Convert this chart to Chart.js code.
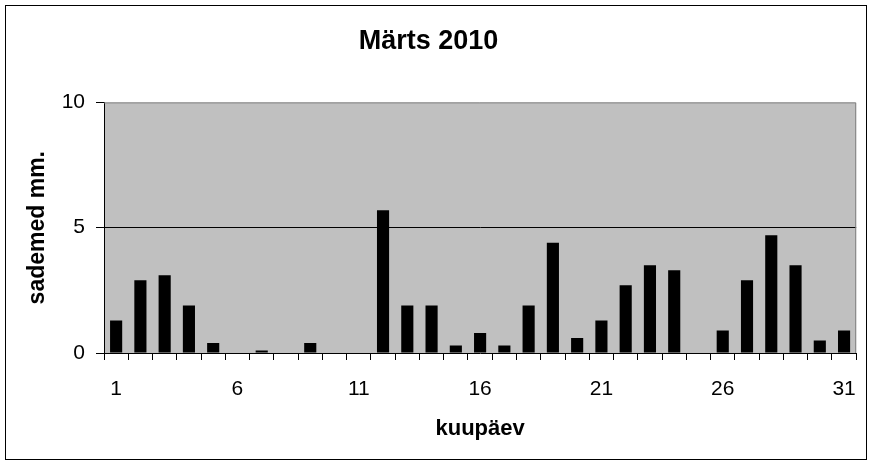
<!DOCTYPE html>
<html>
<head>
<meta charset="utf-8">
<script src="https://cdn.jsdelivr.net/npm/chart.js@4.4.1/dist/chart.umd.min.js"></script>
<style>
  body { margin: 0; background: #fff; }
  canvas { display: block; }
</style>
</head>
<body>
<canvas id="rainChart" width="873" height="465"></canvas>
<script>
// March 2010 daily precipitation (mm)
const days = ['1', '2', '3', '4', '5', '6', '7', '8', '9', '10',
  '11', '12', '13', '14', '15', '16', '17', '18', '19', '20',
  '21', '22', '23', '24', '25', '26', '27', '28', '29', '30', '31'];
const rain = [1.3, 2.9, 3.1, 1.9, 0.4, 0, 0.1, 0, 0.4, 0,
  0, 5.7, 1.9, 1.9, 0.3, 0.8, 0.3, 1.9, 4.4, 0.6,
  1.3, 2.7, 3.5, 3.3, 0, 0.9, 2.9, 4.7, 3.5, 0.5, 0.9];
const shownDays = ['1', '6', '11', '16', '21', '26', '31'];
const yTicks = [0, 5, 10];

const fontName = '"Liberation Sans", Arial, sans-serif';

// grey plot area + outer frame, like the Excel original
const framePlugin = {
  id: 'frame',
  beforeDraw: (chart) => {
    const { ctx, chartArea } = chart;
    ctx.save();
    ctx.fillStyle = '#c0c0c0';
    ctx.fillRect(chartArea.left, chartArea.top, chartArea.right - chartArea.left, chartArea.bottom - chartArea.top);
    ctx.restore();
  },
  afterDraw: (chart) => {
    const { ctx, chartArea } = chart;
    ctx.save();
    ctx.strokeStyle = '#808080';
    ctx.lineWidth = 1;
    ctx.beginPath();
    ctx.moveTo(chartArea.left, chartArea.top + 0.5);
    ctx.lineTo(chartArea.right - 0.5, chartArea.top + 0.5);
    ctx.lineTo(chartArea.right - 0.5, chartArea.bottom);
    ctx.stroke();
    ctx.strokeStyle = '#000';
    ctx.strokeRect(5.5, 5.5, 861, 454);
    ctx.restore();
  }
};

new Chart(document.getElementById('rainChart'), {
  type: 'bar',
  data: {
    labels: days,
    datasets: [{
      label: 'sademed',
      data: rain,
      backgroundColor: '#000',
      borderWidth: 0,
      barPercentage: 0.5,
      categoryPercentage: 1
    }]
  },
  options: {
    responsive: false,
    animation: false,
    devicePixelRatio: 1,
    layout: { padding: { top: 0, right: 16, bottom: 0, left: 0 } },
    plugins: {
      legend: { display: false },
      tooltip: { enabled: false },
      title: {
        display: true,
        text: 'Märts 2010',
        color: '#000',
        font: { family: fontName, size: 27, weight: 'bold' },
        padding: { top: 25, bottom: 45 }
      }
    },
    scales: {
      x: {
        grid: {
          offset: true,
          color: 'transparent',
          tickColor: '#000',
          tickLength: 7,
          drawOnChartArea: false
        },
        border: { color: '#000', width: 1 },
        ticks: {
          autoSkip: false,
          maxRotation: 0,
          color: '#000',
          padding: 17,
          font: { family: fontName, size: 21 },
          callback: function (value) {
            const label = days[value];
            return shownDays.includes(label) ? label : '';
          }
        },
        title: {
          display: true,
          text: 'kuupäev',
          color: '#000',
          font: { family: fontName, size: 22, weight: 'bold' },
          padding: { top: 0, bottom: 23 }
        },
        afterFit: (scale) => { scale.height = 112; }
      },
      y: {
        min: 0,
        max: 10,
        afterBuildTicks: (scale) => { scale.ticks = yTicks.map(v => ({ value: v })); },
        grid: {
          color: (c) => (c.tick && c.tick.value === 5 ? '#000' : 'transparent'),
          tickColor: '#000',
          tickLength: 8
        },
        border: { color: '#000', width: 1 },
        ticks: {
          color: '#000',
          padding: 11,
          font: { family: fontName, size: 21 }
        },
        title: {
          display: true,
          text: 'sademed mm.',
          color: '#000',
          font: { family: fontName, size: 23, weight: 'bold' },
          padding: { top: 24, bottom: 0 }
        },
        afterFit: (scale) => { scale.width = 104; }
      }
    }
  },
  plugins: [framePlugin]
});
</script>
</body>
</html>
